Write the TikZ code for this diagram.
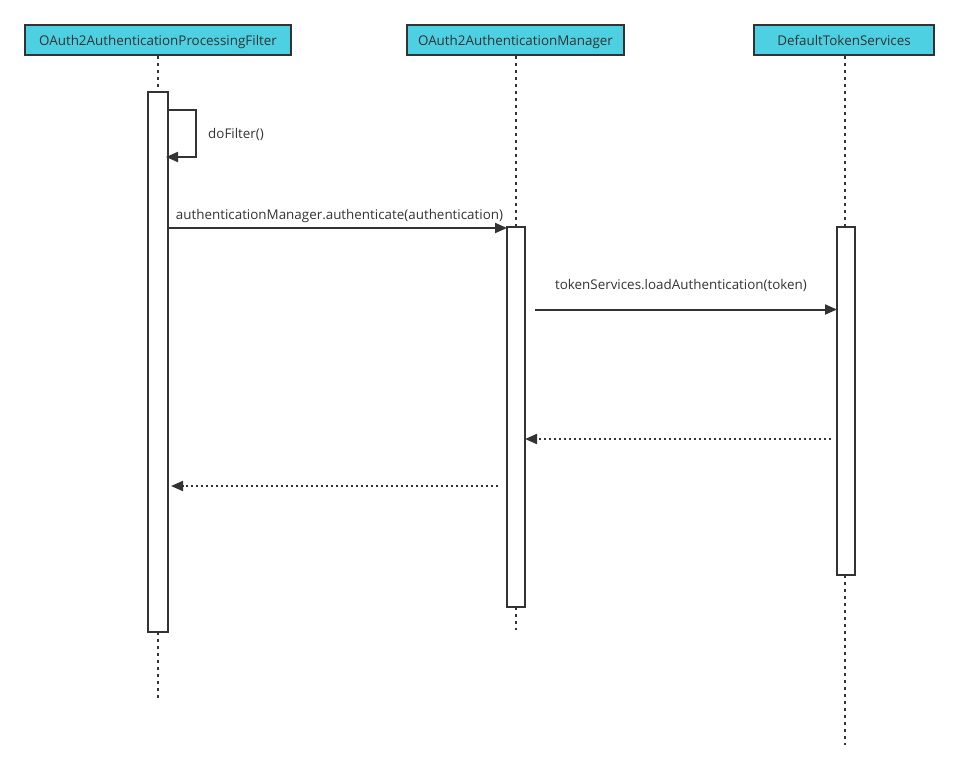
\documentclass[tikz,border=0pt]{standalone}
\usepackage{fontspec}
\setmainfont{Open Sans}
\usetikzlibrary{arrows.meta}
\definecolor{hdr}{HTML}{4DD0E1}
\definecolor{ink}{HTML}{333333}
\tikzset{
  head/.style={draw=ink, line width=2pt, fill=hdr, minimum height=30pt, inner sep=0pt, text height=12pt, text depth=1pt, font=\fontsize{13.4}{15}\selectfont, text=ink},
  act/.style={draw=ink, line width=2pt, fill=white},
  life/.style={draw=ink, line width=2.2pt, dash pattern=on 2.5pt off 4.5pt},
  msg/.style={draw=ink, line width=2pt, -{Triangle[length=12pt, width=10pt]}},
  ret/.style={draw=ink, line width=2pt, dash pattern=on 2.5pt off 2.5pt, -{Triangle[length=12pt, width=10pt]}},
  lbl/.style={font=\fontsize{13.4}{15}\selectfont, text=ink, inner sep=0pt, text height=10pt, text depth=3pt}
}
\begin{document}
\begin{tikzpicture}[x=1pt, y=-1pt]
\useasboundingbox (0,0) rectangle (959,772);
% headers
\node[head, minimum width=266pt] (h1) at (158,40) {OAuth2AuthenticationProcessingFilter};
\node[head, minimum width=217pt] (h2) at (515.5,40) {OAuth2AuthenticationManager};
\node[head, minimum width=180pt] (h3) at (844,40) {DefaultTokenServices};
% lifeline coordinates
\coordinate (l1a) at (158,92);
\coordinate (l1b) at (158,632);
\coordinate (l1e) at (158,702);
\coordinate (l2a) at (516,227);
\coordinate (l2b) at (516,607);
\coordinate (l2e) at (516,630);
\coordinate (l3a) at (845,227);
\coordinate (l3b) at (845,575);
\coordinate (l3e) at (845,745);
\draw[life] (158,56) -- (l1a);
\draw[life] (l1b) -- (l1e);
\draw[life] (516,56) -- (l2a);
\draw[life] (l2b) -- (l2e);
\draw[life] (845,56) -- (l3a);
\draw[life] (l3b) -- (l3e);
% activations
\draw[act] (148,92) rectangle (168,632);
\node[inner sep=0pt, minimum width=20pt, minimum height=540pt] (a1) at (158,362) {};
\draw[act] (507,227) rectangle (525,607);
\node[inner sep=0pt, minimum width=18pt, minimum height=380pt] (a2) at (516,417) {};
\draw[act] (837,227) rectangle (855,575);
\node[inner sep=0pt, minimum width=18pt, minimum height=348pt] (a3) at (846,401) {};
% self loop
\coordinate (s1) at (168,110);
\coordinate (s2) at (196,110);
\coordinate (s3) at (196,157);
\coordinate (s4) at (166,157);
\draw[msg] (s1) -- (s2) -- (s3) -- (s4);
\node[lbl, anchor=west] (t0) at (208,135) {doFilter()};
% authenticate
\coordinate (m1s) at (168,228);
\coordinate (m1e) at (507,228);
\draw[msg] (m1s) -- (m1e);
\node[lbl] (t1) at (339.5,216) {authenticationManager.authenticate(authentication)};
% loadAuthentication
\coordinate (m2s) at (535,309.5);
\coordinate (m2e) at (837,309.5);
\draw[msg] (m2s) -- (m2e);
\node[lbl] (t2) at (681,285.5) {tokenServices.loadAuthentication(token)};
% returns
\coordinate (r1s) at (831,439);
\coordinate (r1e) at (525,439);
\draw[ret] (r1s) -- (r1e);
\coordinate (r2s) at (498,486);
\coordinate (r2e) at (171,486);
\draw[ret] (r2s) -- (r2e);
\end{tikzpicture}
\end{document}
